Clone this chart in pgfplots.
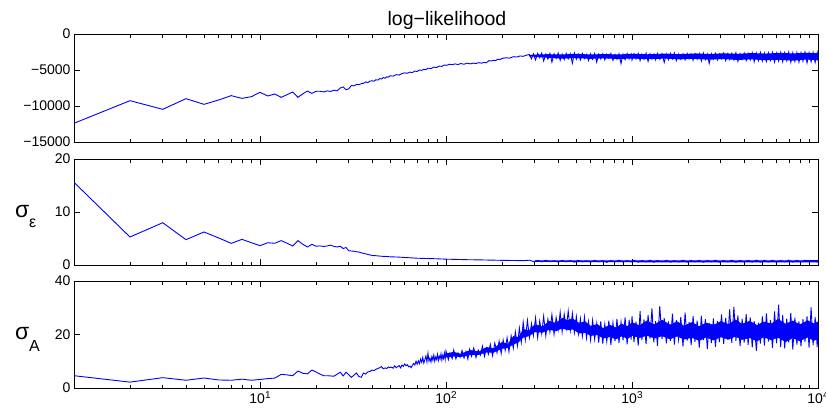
\documentclass[border=0pt]{standalone}
\usepackage{fontspec}
\setmainfont{Liberation Sans}
\usepackage{pgfplots}
\pgfplotsset{compat=1.18}
\pgfplotsset{mypanelstyle/.style={
  scale only axis, width=744pt, xmin=1, xmax=10000,
  tick align=inside, major tick length=6pt, minor tick length=3.5pt,
  axis line style={line width=0.8pt},
  every tick/.style={black, line width=0.6pt},
  xtick={10,100,1000,10000},
  minor xtick={2,3,4,5,6,7,8,9,20,30,40,50,60,70,80,90,200,300,400,500,600,700,800,900,2000,3000,4000,5000,6000,7000,8000,9000},
  tick label style={font=\fontsize{14}{14}\selectfont},
  scaled y ticks=false,
  ylabel style={rotate=-90, anchor=base west, at={(axis description cs:-0.084,0.45)}},
}}
\begin{document}
\begin{tikzpicture}
\useasboundingbox (0,0) rectangle (826pt,416pt);
\node[anchor=base, font=\fontsize{19.5}{19.5}\selectfont] at (447pt,390pt) {log−likelihood};
% top panel
\begin{semilogxaxis}[mypanelstyle, at={(74pt,274pt)}, anchor=south west, height=108pt,
  ymin=-15000, ymax=0, ytick={-15000,-10000,-5000,0},
  yticklabels={−15000,−10000,−5000,0}, xticklabels={}]
\addplot[fill=blue, draw=none] coordinates {
(280,-2900)(350,-2800)(420,-2850)(500,-2750)(600,-2850)(700,-2780)(850,-2850)(1000,-2750)(1200,-2820)
(1500,-2720)(1800,-2800)(2200,-2700)(2600,-2780)(3100,-2680)(3700,-2750)(4400,-2650)(5200,-2720)
(6200,-2620)(7300,-2700)(8600,-2600)(10000,-2680)
(10000,-3650)(8600,-3550)(7300,-3700)(6200,-3580)(5200,-3650)(4400,-3520)(3700,-3600)(3100,-3480)
(2600,-3560)(2200,-3450)(1800,-3520)(1500,-3420)(1200,-3500)(1000,-3400)(850,-3480)(700,-3380)
(600,-3450)(500,-3350)(420,-3420)(350,-3300)(280,-3100)};
\addplot[blue, line width=0.9pt, mark=none] coordinates {
(1,-12400)(2,-9260)(3,-10460)(4,-8980)(5,-9770)(6,-9160)(7,-8560)(8,-8940)(9,-8700)(10,-8100)
(11,-8610)(12,-8330)(13,-8800)(14,-8420)(15,-8060)(16,-8800)(17,-8300)(18,-7920)(19,-8250)(20,-7960)
(21,-7950)(22,-8050)(23,-7900)(24,-7980)(25,-7800)(26,-7900)(27,-7500)(28,-7350)(29,-7750)
(30,-7600)(31,-7150)(32,-7200)(33,-7000)(34,-7050)(35,-6900)(36,-6850)(37,-6650)(38,-6750)(39,-6550)
(40,-6500)(41,-6550)(42,-6350)(43,-6400)(44,-6200)(45,-6250)(46,-6050)(47,-6150)(48,-5950)(49,-6000)
(50,-5800)(52,-5850)(54,-5650)(56,-5700)(58,-5500)(60,-5400)(62,-5450)(64,-5300)(66,-5350)(68,-5150)
(70,-5200)(72,-5000)(74,-5050)(76,-4900)(78,-4950)(80,-4750)(83,-4800)(86,-4600)(89,-4650)(92,-4450)
(95,-4500)(98,-4300)(101,-4350)(104,-4200)(108,-4250)(112,-4150)(116,-4250)(120,-4100)(125,-4200)
(130,-4050)(135,-4150)(140,-4050)(145,-4100)(150,-3980)(155,-4050)(160,-3950)(165,-4000)(170,-3700)
(175,-3750)(180,-3650)(185,-3700)(190,-3500)(195,-3550)(200,-3400)(210,-3300)(220,-3350)(230,-3150)
(240,-3200)(250,-3050)(260,-3100)(270,-2950)
(281,-2850)(288,-3450)(295,-2750)(303,-3600)(311,-2700)(319,-3300)(327,-2650)(335,-3750)(344,-2800)
(353,-3500)(362,-2700)(371,-3900)(381,-2750)(391,-3400)(401,-2650)(411,-3650)(421,-2800)(432,-3550)
(443,-2700)(454,-3450)(466,-2750)(478,-4050)(490,-2650)(502,-3500)(515,-2800)(528,-3600)(541,-2700)
(555,-3400)(569,-2850)(584,-3700)(599,-2750)(614,-3500)(630,-2700)(646,-3900)(662,-2800)(679,-3450)
(696,-2750)(714,-3600)(732,-2800)(751,-3350)(770,-2700)(790,-3650)(810,-2850)(830,-3500)(851,-2750)
(873,-4100)(895,-2800)(918,-3550)(941,-2700)(965,-3450)(990,-2800)
(1000,-3600)(1025,-2750)(1050,-3450)(1080,-2700)(1105,-3700)(1130,-2800)(1160,-3500)(1190,-2650)
(1220,-3800)(1250,-2750)(1280,-3450)(1310,-2800)(1340,-3600)(1370,-2700)(1410,-3500)(1450,-2750)
(1490,-3950)(1530,-2800)(1570,-3550)(1610,-2700)(1650,-3450)(1690,-2650)(1730,-3700)(1780,-2800)
(1830,-3500)(1880,-2750)(1930,-3600)(1980,-2700)(2030,-3400)(2080,-2800)(2130,-3650)(2180,-2750)
(2240,-3500)(2300,-2700)(2360,-3750)(2420,-2650)(2480,-3550)(2540,-2800)(2600,-4100)(2670,-2750)
(2740,-3500)(2810,-2700)(2880,-3600)(2950,-2800)(3030,-3450)(3110,-2650)(3190,-3700)(3270,-2750)
(3350,-3550)(3440,-2700)(3530,-3600)(3620,-2600)(3710,-3800)(3810,-2750)(3910,-3500)(4010,-2650)
(4110,-3700)(4210,-2700)(4320,-3600)(4430,-2600)(4540,-3850)(4660,-2650)(4780,-3700)(4900,-2550)
(5020,-3750)(5150,-2650)(5280,-3800)(5410,-2600)(5550,-3650)(5690,-2550)(5840,-3900)(5990,-2650)
(6140,-3750)(6300,-2550)(6460,-3850)(6620,-2600)(6790,-3700)(6960,-2500)(7140,-3950)(7320,-2600)
(7510,-3800)(7700,-2550)(7900,-3900)(8100,-2600)(8300,-3750)(8510,-2500)(8730,-4000)(8950,-2600)
(9180,-3850)(9410,-2550)(9650,-3950)(9900,-2600)(10000,-3700)
};
\end{semilogxaxis}
% middle panel
\begin{semilogxaxis}[mypanelstyle, at={(74pt,151pt)}, anchor=south west, height=106pt,
  ymin=0, ymax=20, ytick={0,10,20}, yticklabels={0,10,20}, xticklabels={},
  ylabel={\fontsize{23}{23}\selectfont σ\raisebox{-10pt}{\fontsize{16}{16}\selectfont ε}}]
\addplot[fill=blue, draw=none] coordinates {
(300,0.86)(1000,0.86)(10000,0.9)(10000,0.5)(1000,0.52)(300,0.6)};
\addplot[blue, line width=0.9pt, mark=none] coordinates {
(1,15.6)(2,5.28)(3,7.98)(4,4.78)(5,6.23)(6,5.1)(7,4.09)(8,4.84)(9,4.2)(10,3.65)
(11,4.2)(12,4.1)(13,4.6)(14,4.1)(15,3.58)(16,4.6)(17,3.9)(18,3.4)(19,3.9)(20,3.55)
(21,3.6)(22,3.5)(23,3.6)(24,3.75)(25,3.5)(26,3.4)(27,3.55)(28,3.1)(29,3.3)(30,2.7)(31,2.64)
(32,2.6)(33,2.5)(34,2.45)(35,2.3)(36,2.2)(38,2.0)(40,1.8)(42,1.75)(45,1.65)(48,1.6)(50,1.55)
(55,1.5)(60,1.42)(65,1.35)(70,1.28)(75,1.25)(80,1.22)(90,1.17)(100,1.1)(115,1.05)(130,1.0)
(150,0.97)(170,0.93)(200,0.88)(230,0.85)(260,0.82)
(281,0.9)(295,0.65)(311,0.85)(327,0.6)(344,0.88)(362,0.62)(381,0.8)(401,0.55)(421,0.85)(443,0.6)
(466,0.82)(490,0.52)(515,0.86)(541,0.6)(569,0.8)(599,0.55)(630,0.88)(662,0.6)(696,0.82)(732,0.5)
(770,0.85)(810,0.6)(851,0.9)(895,0.55)(941,0.82)(990,0.58)(1025,0.88)(1080,0.55)(1130,0.85)
(1190,0.6)(1250,0.9)(1310,0.52)(1370,0.85)(1450,0.6)(1530,0.88)(1610,0.55)(1690,0.82)(1780,0.58)
(1880,0.9)(1980,0.55)(2080,0.86)(2180,0.6)(2300,0.88)(2420,0.52)(2540,0.85)(2670,0.6)(2810,0.9)
(2950,0.55)(3110,0.85)(3270,0.58)(3440,0.9)(3620,0.52)(3810,0.86)(4010,0.6)(4210,0.88)(4430,0.55)
(4660,0.92)(4900,0.55)(5150,0.88)(5410,0.58)(5690,0.9)(5990,0.52)(6300,0.86)(6620,0.58)(6960,0.92)
(7320,0.55)(7700,0.88)(8100,0.55)(8510,0.9)(8950,0.58)(9410,0.88)(9900,0.55)(10000,0.8)
};
\end{semilogxaxis}
% bottom panel
\begin{semilogxaxis}[mypanelstyle, at={(74pt,28pt)}, anchor=south west, height=107pt,
  ymin=0, ymax=40, ytick={0,20,40}, yticklabels={0,20,40},
  xticklabels={10\raisebox{0.7ex}{\fontsize{10}{10}\selectfont 1},10\raisebox{0.7ex}{\fontsize{10}{10}\selectfont 2},10\raisebox{0.7ex}{\fontsize{10}{10}\selectfont 3},10\raisebox{0.7ex}{\fontsize{10}{10}\selectfont 4}},
  ylabel={\fontsize{23}{23}\selectfont σ\raisebox{-12pt}{\fontsize{16}{16}\selectfont A}}]
\addplot[fill=blue, draw=none] coordinates {
(100,12.9)(110,13.5)(120,12.8)(135,14.2)(150,13.6)(165,15.3)(180,14.8)(200,17.2)(215,16.5)(230,19.4)
(245,19.0)(260,22.0)(280,21.6)(300,23.8)(330,23.0)(360,25.1)(390,24.3)(420,26.2)(450,25.4)(480,26.0)
(520,24.3)(560,24.9)(600,23.2)(650,23.9)(700,22.4)(760,23.6)(820,22.6)(880,24.0)(950,23.1)(1000,24.6)
(1100,23.4)(1200,25.2)(1320,23.8)(1450,25.5)(1600,23.7)(1750,24.9)(1900,23.3)(2100,24.6)(2300,23.1)
(2500,24.4)(2750,23.6)(3000,25.0)(3300,23.9)(3600,25.6)(3900,24.0)(4300,25.1)(4700,23.5)(5100,24.8)
(5600,24.1)(6100,25.8)(6700,24.0)(7300,25.2)(8000,23.8)(8800,25.3)(9500,24.1)(10000,24.9)
(10000,18.4)(9500,17.6)(8800,18.9)(8000,17.5)(7300,18.6)(6700,17.2)(6100,18.8)(5600,17.9)(5100,19.0)
(4700,17.4)(4300,18.7)(3900,18.0)(3600,19.2)(3300,18.1)(3000,19.0)(2750,17.8)(2500,18.9)(2300,17.6)
(2100,18.8)(1900,18.1)(1750,19.3)(1600,18.2)(1450,19.4)(1320,18.5)(1200,19.6)(1100,18.7)(1000,19.5)
(950,18.4)(880,19.3)(820,18.2)(760,19.0)(700,18.6)(650,19.8)(600,19.5)(560,20.6)(520,20.4)(480,21.9)
(450,21.6)(420,22.3)(390,21.2)(360,21.8)(330,20.7)(300,20.9)(280,19.4)(260,18.8)(245,17.0)(230,16.3)
(215,14.9)(200,14.7)(180,13.2)(165,13.3)(150,12.4)(135,12.3)(120,11.6)(110,11.8)(100,11.4)};
\addplot[blue, line width=0.9pt, mark=none] coordinates {
(1,4.6)(2,2.2)(3,3.86)(4,2.9)(5,3.74)(6,3.0)(7,2.9)(8,3.3)(9,2.9)(10,3.2)
(11,3.5)(12,3.7)(13,5.1)(14,4.9)(15,4.6)(16,6.35)(17,5.5)(18,5.3)(19,6.7)(20,6.0)
(21,5.2)(22,4.6)(23,4.6)(24,4.5)(25,4.4)(26,5.2)(27,5.9)(28,4.5)(29,5.9)(30,5.0)
(31,4.0)(32,4.8)(33,5.6)(34,4.3)(35,4.0)(36,5.6)(37,5.2)(38,6.0)(39,6.2)(40,6.7)
(41,6.5)(42,7.0)(43,7.3)(44,7.6)(45,8.0)(46,7.2)(47,7.5)(48,7.3)(49,7.9)(50,7.6)
(51,7.8)(52,7.4)(53,8.3)(54,7.6)(55,8.0)(56,8.4)(57,7.5)(58,8.6)(59,8.1)(60,9.0)
(61,8.3)(62,8.7)(63,7.9)(64,8.2)(65,7.6)(66,8.5)(67,9.2)(68,8.6)(69,10.0)(70,8.9)
(71,10.2)(72,9.1)(73,10.8)(74,9.6)(75,11.4)(76,9.3)(77,10.6)(78,12.0)(79,9.8)(80,13.0)
(81,10.1)(82,11.2)(83,9.7)(84,11.8)(85,10.4)(86,12.3)(87,10.0)(88,11.6)(89,10.7)(90,12.6)
(91,10.3)(92,11.9)(93,10.9)(94,12.8)(95,10.5)(96,12.2)(97,11.1)(98,13.1)(99,10.8)
(100,13.8)(103,10.6)(105,12.9)(108,11.0)(110,14.2)(113,10.9)(116,13.1)(119,11.5)(122,14.0)(125,11.2)
(128,13.6)(131,10.8)(134,14.5)(137,11.9)(141,15.0)(145,11.4)(149,14.2)(153,12.3)(157,15.6)(161,11.8)
(165,14.9)(169,12.7)(173,16.3)(178,12.1)(183,16.8)(188,13.2)(193,17.5)(198,12.9)(203,17.9)(208,14.1)
(213,18.8)(218,13.6)(224,19.5)(230,14.9)(236,21.0)(242,15.8)(248,22.4)(254,17.1)(260,24.6)(267,18.0)
(274,25.3)(281,18.9)(288,24.1)(295,19.6)(303,26.2)(311,18.8)(319,25.0)(327,20.3)(335,26.8)(344,19.5)
(353,25.7)(362,20.9)(371,27.4)(381,20.1)(391,26.3)(401,21.8)(411,28.3)(421,21.0)(432,27.6)(443,22.3)
(454,28.8)(466,21.5)(478,27.9)(490,20.8)(502,26.7)(515,20.2)(528,25.9)(541,19.4)(555,26.5)(569,18.7)
(584,24.8)(599,17.9)(614,25.3)(630,18.2)(646,24.1)(662,17.0)(679,24.9)(696,16.6)(714,23.8)(732,17.4)
(751,25.2)(770,16.1)(790,24.4)(810,17.5)(830,25.8)(851,16.9)(873,24.7)(895,17.8)(918,26.4)(941,16.3)
(965,25.5)(990,18.1)
(1000,26.9)(1025,17.2)(1050,24.8)(1080,15.9)(1105,28.7)(1130,17.9)(1160,25.6)(1190,16.4)(1220,27.3)
(1250,18.5)(1280,29.8)(1310,17.1)(1340,25.0)(1370,15.8)(1410,30.6)(1450,18.3)(1490,26.1)(1530,16.7)
(1570,24.9)(1610,17.6)(1650,27.8)(1690,16.2)(1730,25.4)(1780,18.0)(1830,26.6)(1880,15.5)(1930,28.2)
(1980,17.7)(2030,24.6)(2080,16.0)(2130,26.9)(2180,17.3)(2240,25.2)(2300,15.1)(2360,27.0)(2420,17.9)
(2480,25.7)(2540,14.6)(2600,24.3)(2670,16.8)(2740,26.0)(2810,15.4)(2880,25.1)(2950,17.2)(3030,27.5)
(3110,16.5)(3190,26.2)(3270,18.1)(3350,29.4)(3440,16.9)(3530,30.3)(3620,17.6)(3710,27.1)(3810,15.7)
(3910,25.8)(4010,17.0)(4110,27.7)(4210,16.1)(4320,26.4)(4430,15.2)(4540,25.0)(4660,13.9)(4780,24.4)
(4900,16.6)(5020,26.8)(5150,15.9)(5280,27.9)(5410,17.4)(5550,25.5)(5690,15.0)(5840,28.6)(5990,16.7)
(6140,31.2)(6300,15.4)(6460,27.2)(6620,14.8)(6790,25.9)(6960,17.1)(7140,28.1)(7320,14.4)(7510,26.3)
(7700,16.2)(7900,24.9)(8100,15.6)(8300,25.7)(8510,17.3)(8730,26.8)(8950,15.1)(9180,30.1)(9410,16.0)
(9650,26.5)(9900,15.3)(10000,24.0)
};
\end{semilogxaxis}
\end{tikzpicture}
\end{document}
